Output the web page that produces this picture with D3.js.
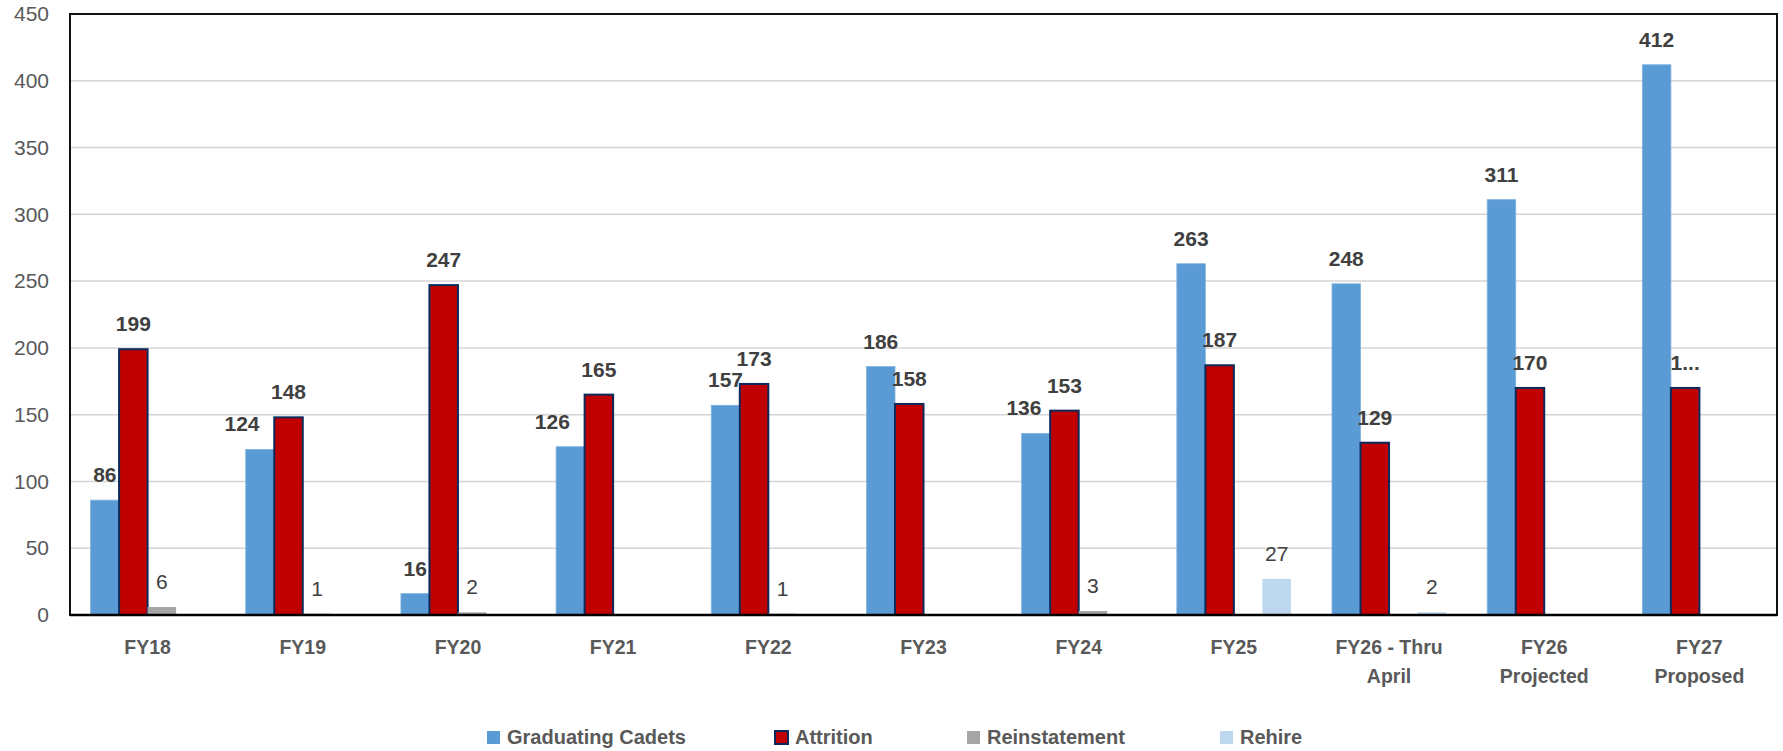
<!DOCTYPE html>
<html>
<head>
<meta charset="utf-8">
<script src="https://cdn.jsdelivr.net/npm/d3@7"></script>
<style>
  html, body { margin: 0; padding: 0; background: #ffffff; }
  svg { display: block; font-family: "Liberation Sans", Arial, sans-serif; }
</style>
</head>
<body>
<svg id="chart" width="1783" height="751"></svg>
<script>
// Fiscal-year categories (multi-line labels split on "\n")
const categories = ["FY18", "FY19", "FY20", "FY21", "FY22", "FY23", "FY24", "FY25",
                    "FY26 - Thru\nApril", "FY26\nProjected", "FY27\nProposed"];

// Series values (null = no bar / no label)
const graduatingCadets = [86, 124, 16, 126, 157, 186, 136, 263, 248, 311, 412];
const attrition        = [199, 148, 247, 165, 173, 158, 153, 187, 129, 170, 170];
const reinstatement    = [6, 1, 2, null, 1, null, 3, null, null, null, null];
const rehire           = [null, null, null, null, null, null, null, 27, 2, null, null];

// Attrition label for the last category is clipped to "1..." in the source layout
const attritionLabelText = [null, null, null, null, null, null, null, null, null, null, "1..."];

const yTicks = [0, 50, 100, 150, 200, 250, 300, 350, 400, 450];

const seriesNames = ["Graduating Cadets", "Attrition", "Reinstatement", "Rehire"];
const seriesValues = [graduatingCadets, attrition, reinstatement, rehire];
const seriesFill   = ["#5B9BD5", "#C00000", "#A5A5A5", "#BDD7EE"];
const seriesStroke = ["#7FB2E0", "#0D2A5C", "none", "none"];
const seriesBold   = [true, true, false, false];

// Graduating Cadets labels nudged left where they would crowd the Attrition label
const cadetLabelNudge = { "FY19": -18, "FY21": -18, "FY24": -12 };

const svg = d3.select("#chart");
const plot = { left: 70, right: 1777, top: 14, bottom: 615 };

const x0 = d3.scaleBand()
  .domain(categories)
  .range([plot.left, plot.right])
  .paddingInner(0.265)
  .paddingOuter(0.1325);

const x1 = d3.scaleBand()
  .domain(d3.range(seriesNames.length))
  .range([0, x0.bandwidth()]);

const y = d3.scaleLinear().domain([0, 450]).range([plot.bottom, plot.top]);

// Horizontal gridlines
svg.append("g")
  .selectAll("line")
  .data(yTicks.filter(t => t > 0 && t < 450))
  .join("line")
  .attr("x1", plot.left).attr("x2", plot.right)
  .attr("y1", d => y(d)).attr("y2", d => y(d))
  .attr("stroke", "#D4D4D4").attr("stroke-width", 1.5);

// Y axis tick labels
const yAxis = d3.axisLeft(y).tickValues(yTicks).tickSize(0).tickPadding(21);
const yAxisG = svg.append("g").attr("transform", `translate(${plot.left},0)`).call(yAxis);
yAxisG.select(".domain").remove();
yAxisG.selectAll("text")
  .attr("font-size", 21)
  .attr("fill", "#595959")
  .attr("font-family", "'Liberation Sans', Arial, sans-serif");

// Bars
const rows = [];
categories.forEach((c, i) => {
  seriesValues.forEach((vals, s) => {
    if (vals[i] != null) rows.push({ cat: c, i, s, v: vals[i] });
  });
});

svg.append("g")
  .selectAll("rect")
  .data(rows)
  .join("rect")
  .attr("x", d => x0(d.cat) + x1(d.s))
  .attr("y", d => y(d.v))
  .attr("width", x1.bandwidth())
  .attr("height", d => y(0) - y(d.v))
  .attr("fill", d => seriesFill[d.s])
  .attr("stroke", d => seriesStroke[d.s])
  .attr("stroke-width", d => d.s === 1 ? 2 : (d.s === 0 ? 0.8 : 0));

// Plot frame and baseline
svg.append("rect")
  .attr("x", plot.left).attr("y", plot.top)
  .attr("width", plot.right - plot.left).attr("height", plot.bottom - plot.top)
  .attr("fill", "none").attr("stroke", "#111").attr("stroke-width", 2);
svg.append("line")
  .attr("x1", plot.left).attr("x2", plot.right)
  .attr("y1", y(0)).attr("y2", y(0))
  .attr("stroke", "#000").attr("stroke-width", 2.5);

// Value labels
const labelKey = d => d.cat.split("\n")[0];
svg.append("g")
  .selectAll("text")
  .data(rows)
  .join("text")
  .attr("x", d => x0(d.cat) + x1(d.s) + x1.bandwidth() / 2 +
                  (d.s === 0 ? (cadetLabelNudge[labelKey(d)] || 0) : 0))
  .attr("y", d => y(d.v) - 18)
  .attr("text-anchor", "middle")
  .attr("font-size", 21)
  .attr("font-weight", d => seriesBold[d.s] ? "bold" : "normal")
  .attr("fill", "#404040")
  .text(d => (d.s === 1 && attritionLabelText[d.i]) ? attritionLabelText[d.i] : d.v);

// Category labels
const catG = svg.append("g");
categories.forEach(c => {
  const t = catG.append("text")
    .attr("x", x0(c) + x0.bandwidth() / 2)
    .attr("y", 654)
    .attr("text-anchor", "middle")
    .attr("font-size", 19.5)
    .attr("font-weight", "bold")
    .attr("fill", "#595959");
  c.split("\n").forEach((line, k) => {
    t.append("tspan")
      .attr("x", x0(c) + x0.bandwidth() / 2)
      .attr("dy", k === 0 ? 0 : 29)
      .text(line);
  });
});

// Legend
const legendX = [487, 775, 967, 1220];
const legend = svg.append("g");
seriesNames.forEach((name, s) => {
  legend.append("rect")
    .attr("x", legendX[s]).attr("y", 731)
    .attr("width", 13).attr("height", 13)
    .attr("fill", seriesFill[s])
    .attr("stroke", s === 1 ? "#0D2A5C" : "none")
    .attr("stroke-width", s === 1 ? 2 : 0);
  legend.append("text")
    .attr("x", legendX[s] + 20).attr("y", 744)
    .attr("font-size", 20)
    .attr("font-weight", "bold")
    .attr("fill", "#595959")
    .text(name);
});
</script>
</body>
</html>
